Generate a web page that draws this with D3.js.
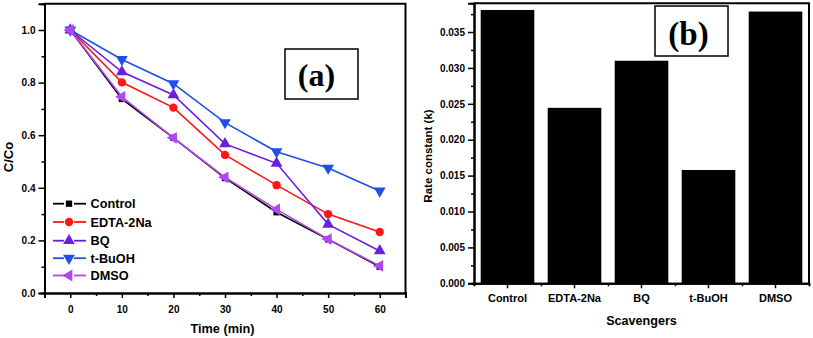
<!DOCTYPE html>
<html><head><meta charset="utf-8">
<script src="https://cdn.jsdelivr.net/npm/d3@7"></script>
<style>
body{margin:0;background:#fff;}
svg{display:block;font-family:"Liberation Sans",Arial,sans-serif;font-weight:bold;}
</style></head>
<body><svg id="c" width="813" height="338"></svg>
<script>
// Panel (a) data
const times = [0, 10, 20, 30, 40, 50, 60];
const seriesNames = ["Control", "EDTA-2Na", "BQ", "t-BuOH", "DMSO"];
const controlVals = [1.0, 0.738, 0.590, 0.437, 0.307, 0.204, 0.100];
const edtaVals = [1.0, 0.801, 0.705, 0.525, 0.410, 0.300, 0.232];
const bqVals = [1.0, 0.841, 0.753, 0.567, 0.493, 0.261, 0.160];
const tbuohVals = [1.0, 0.888, 0.796, 0.648, 0.537, 0.475, 0.388];
const dmsoVals = [1.0, 0.746, 0.590, 0.440, 0.318, 0.205, 0.103];
const seriesColors = ["#000000", "#ff1515", "#6a1fe0", "#1f4fe6", "#b048f0"];
const xTicksA = [0, 10, 20, 30, 40, 50, 60];
const yTicksA = [0.0, 0.2, 0.4, 0.6, 0.8, 1.0];
// Panel (b) data
const scavengers = ["Control", "EDTA-2Na", "BQ", "t-BuOH", "DMSO"];
const rateConst = [0.03807, 0.02444, 0.0310, 0.01578, 0.03785];
const yTicksB = [0.000, 0.005, 0.010, 0.015, 0.020, 0.025, 0.030, 0.035];

const svg = d3.select("#c");
const allVals = [controlVals, edtaVals, bqVals, tbuohVals, dmsoVals];
const symbols = [
  {t: d3.symbolSquare, s: 40, r: 0},
  {t: d3.symbolCircle, s: 55, r: 0},
  {t: d3.symbolTriangle, s: 60, r: 0},
  {t: d3.symbolTriangle, s: 60, r: 180},
  {t: d3.symbolTriangle, s: 60, r: -90}
];

// ---------- Panel (a) ----------
const xA = d3.scaleLinear().domain([-5, 65]).range([44.5, 405.5]);
const yA = d3.scaleLinear().domain([0, 1.1]).range([293, 3.7]);
const gA = svg.append("g");

function styleAxis(g){
  g.select(".domain").attr("stroke", "#000").attr("stroke-width", 2);
  g.selectAll(".tick line").attr("stroke", "#000").attr("stroke-width", 1.5);
  g.selectAll("text").attr("font-size", 10).attr("font-weight", "bold").attr("fill", "#000")
    .attr("font-family", "Liberation Sans, Arial, sans-serif");
}

// minor ticks
gA.append("g").attr("transform", `translate(0,${yA(0)})`)
  .call(d3.axisBottom(xA).tickValues(d3.range(-5, 66, 10)).tickSize(3).tickFormat(""))
  .call(styleAxis);
gA.append("g").attr("transform", `translate(${xA(-5)},0)`)
  .call(d3.axisLeft(yA).tickValues(d3.range(0.1, 1.1, 0.2)).tickSize(3).tickFormat(""))
  .call(styleAxis);
gA.append("g").attr("transform", `translate(0,${yA(0)})`)
  .call(d3.axisBottom(xA).tickValues(xTicksA).tickSize(5).tickPadding(8).tickFormat(d3.format("d")))
  .call(styleAxis);
gA.append("g").attr("transform", `translate(${xA(-5)},0)`)
  .call(d3.axisLeft(yA).tickValues(yTicksA).tickSize(6).tickPadding(3).tickFormat(d3.format(".1f")))
  .call(styleAxis);
// frame
gA.append("path").attr("d", `M${xA(-5)},${yA(1.1)}H${xA(65)}V${yA(0)}`)
  .attr("fill", "none").attr("stroke", "#000").attr("stroke-width", 2);

const line = d3.line().x((d, i) => xA(times[i])).y(d => yA(d));
allVals.forEach((vals, k) => {
  gA.append("path").datum(vals).attr("d", line)
    .attr("fill", "none").attr("stroke", seriesColors[k]).attr("stroke-width", 1.6);
  gA.selectAll(null).data(vals).enter().append("path")
    .attr("d", d3.symbol().type(symbols[k].t).size(symbols[k].s))
    .attr("transform", (d, i) => `translate(${xA(times[i])},${yA(d)}) rotate(${symbols[k].r})`)
    .attr("fill", seriesColors[k]);
});

// legend
const legY = [203.7, 222, 240.7, 258.2, 275.5];
seriesNames.forEach((n, k) => {
  const lg = gA.append("g").attr("transform", `translate(0,${legY[k]})`);
  lg.append("line").attr("x1", 53).attr("x2", 64).attr("y1", 0).attr("y2", 0)
    .attr("stroke", seriesColors[k]).attr("stroke-width", 1.8);
  lg.append("line").attr("x1", 74).attr("x2", 86).attr("y1", 0).attr("y2", 0)
    .attr("stroke", seriesColors[k]).attr("stroke-width", 1.8);
  lg.append("path").attr("d", d3.symbol().type(symbols[k].t).size(symbols[k].s))
    .attr("transform", `translate(69,0) rotate(${symbols[k].r})`).attr("fill", seriesColors[k]);
  lg.append("text").attr("x", 90.5).attr("y", 4.5).attr("font-size", 12.7).text(n);
});

gA.append("text").attr("x", 222.5).attr("y", 333).attr("text-anchor", "middle")
  .attr("font-size", 12.7).text("Time (min)");
gA.append("text").attr("transform", "translate(13,157) rotate(-90)").attr("text-anchor", "middle")
  .attr("font-size", 13).text("C/Co");
gA.append("rect").attr("x", 285).attr("y", 49).attr("width", 73).attr("height", 50)
  .attr("fill", "#fff").attr("stroke", "#000").attr("stroke-width", 1.5);
gA.append("text").attr("x", 316.5).attr("y", 86).attr("text-anchor", "middle")
  .attr("font-family", "Liberation Serif, Times New Roman, serif").attr("font-weight", "bold")
  .attr("font-size", 32).text("(a)");

// ---------- Panel (b) ----------
const xB = d3.scaleBand().domain(scavengers).range([474, 809]).paddingInner(0.2).paddingOuter(0.1);
const yB = d3.scaleLinear().domain([0, 0.039]).range([283.3, 3.3]);
const gB = svg.append("g");

gB.selectAll("rect.bar").data(rateConst).enter().append("rect").attr("class", "bar")
  .attr("x", (d, i) => xB(scavengers[i])).attr("width", xB.bandwidth())
  .attr("y", d => yB(d)).attr("height", d => yB(0) - yB(d)).attr("fill", "#000");

const stepB = xB.step();
const boundaries = d3.range(1, scavengers.length).map(i => 474 + i * stepB);
const xMinor = d3.scaleLinear().domain([474, 809]).range([474, 809]);
gB.append("g").attr("transform", `translate(0,${yB(0)})`)
  .call(d3.axisBottom(xMinor).tickValues(boundaries).tickSize(3).tickFormat(""))
  .call(styleAxis);
gB.append("g").attr("transform", `translate(0,${yB(0)})`)
  .call(d3.axisBottom(xB).tickSize(5).tickPadding(6).tickSizeOuter(0))
  .call(styleAxis).call(g => g.selectAll("text").attr("font-size", 11));
gB.append("g").attr("transform", `translate(474,0)`)
  .call(d3.axisLeft(yB).tickValues(d3.range(0.0025, 0.039, 0.005)).tickSize(3).tickFormat(""))
  .call(styleAxis);
gB.append("g").attr("transform", `translate(474,0)`)
  .call(d3.axisLeft(yB).tickValues(yTicksB).tickSize(6).tickPadding(3).tickFormat(d3.format(".3f")))
  .call(styleAxis);
gB.append("path").attr("d", `M474,${yB(0.039)}H809V${yB(0)}`)
  .attr("fill", "none").attr("stroke", "#000").attr("stroke-width", 2);

gB.append("text").attr("x", 641.5).attr("y", 325).attr("text-anchor", "middle")
  .attr("font-size", 12.6).text("Scavengers");
gB.append("text").attr("transform", "translate(431.5,156) rotate(-90)").attr("text-anchor", "middle")
  .attr("font-size", 11.5).text("Rate constant (k)");
gB.append("rect").attr("x", 655).attr("y", 6).attr("width", 73).attr("height", 50)
  .attr("fill", "#fff").attr("stroke", "#000").attr("stroke-width", 1.5);
gB.append("text").attr("x", 688.5).attr("y", 45).attr("text-anchor", "middle")
  .attr("font-family", "Liberation Serif, Times New Roman, serif").attr("font-weight", "bold")
  .attr("font-size", 33).text("(b)");
</script></body></html>
